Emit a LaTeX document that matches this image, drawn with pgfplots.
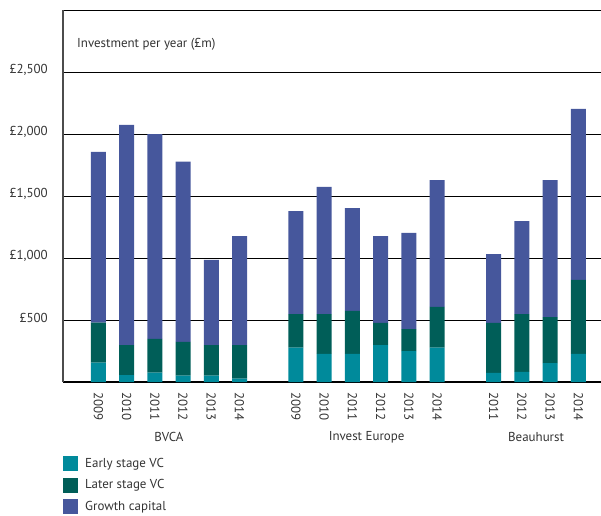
\documentclass[border=0pt]{standalone}
\usepackage{fontspec}
\setmainfont{PT Sans}
\usepackage{pgfplots}
\pgfplotsset{compat=1.18}

\definecolor{early}{RGB}{0,138,155}
\definecolor{later}{RGB}{0,94,88}
\definecolor{growth}{RGB}{70,87,156}
\definecolor{txt}{RGB}{51,51,51}

\begin{document}
\begin{tikzpicture}
\begin{axis}[
    width=538bp, height=372bp,
    scale only axis,
    ybar stacked,
    bar width=15bp,
    xmin=-1.25, xmax=17.8,
    ymin=0, ymax=3000,
    axis x line*=bottom,
    axis y line*=left,
    x axis line style={black, line width=1.2pt},
    y axis line style={black!70, line width=1.4pt},
    ymajorgrids,
    grid style={black, line width=0.8pt},
    ytick={500,1000,1500,2000,2500,3000},
    yticklabels={£500,{£1,000},{£1,500},{£2,000},{£2,500},{}},
    xtick={0,1,2,3,4,5,7,8,9,10,11,12,14,15,16,17},
    xticklabels={2009,2010,2011,2012,2013,2014,2009,2010,2011,2012,2013,2014,2011,2012,2013,2014},
    major tick length=0pt,
    tick label style={font=\fontsize{13}{15}\selectfont, text=txt},
    yticklabel style={inner sep=0pt, xshift=-15bp, yshift=2bp},
    xticklabel style={rotate=-90, anchor=west, inner sep=0pt},
    xticklabel shift=10bp,
    clip=false,
    legend style={at={(0,0)}, anchor=north west, yshift=-74bp, draw=none, fill=none,
        inner sep=0pt, row sep=6.5bp,
        nodes={inner sep=0pt, text height=11bp, text depth=4bp, font=\fontsize{13}{15}\selectfont, text=txt}},
    legend cell align=left,
    /tikz/every odd column/.append style={column sep=7bp},
]
\addplot[fill=early, draw=none,
    legend image code/.code={\fill[early] (0bp,-7.5bp) rectangle (15bp,7.5bp);}]
coordinates {(0,156) (1,56) (2,75) (3,51) (4,51) (5,27)
             (7,277) (8,226) (9,226) (10,298) (11,250) (12,277)
             (14,73) (15,81) (16,153) (17,226)};
\addplot[fill=later, draw=none,
    legend image code/.code={\fill[later] (0bp,-7.5bp) rectangle (15bp,7.5bp);}]
coordinates {(0,322) (1,242) (2,272) (3,272) (4,247) (5,271)
             (7,271) (8,322) (9,347) (10,178) (11,177) (12,328)
             (14,403) (15,467) (16,371) (17,597)};
\addplot[fill=growth, draw=none,
    legend image code/.code={\fill[growth] (0bp,-7.5bp) rectangle (15bp,7.5bp);}]
coordinates {(0,1377) (1,1775) (2,1651) (3,1454) (4,686) (5,879)
             (7,831) (8,1025) (9,830) (10,701) (11,775) (12,1024)
             (14,556) (15,750) (16,1105) (17,1379)};
\legend{Early stage VC, Later stage VC, Growth capital}

\node[anchor=west, text=txt, font=\fontsize{13}{15}\selectfont, inner sep=0pt]
    at (rel axis cs:0.026,0.909) {Investment per year (£m)};
\node[text=txt, font=\fontsize{13}{15}\selectfont, inner sep=0pt, yshift=-55bp] at (axis cs:2.5,0) {BVCA};
\node[text=txt, font=\fontsize{13}{15}\selectfont, inner sep=0pt, yshift=-55bp] at (axis cs:9.5,0) {Invest Europe};
\node[text=txt, font=\fontsize{13}{15}\selectfont, inner sep=0pt, yshift=-55bp] at (axis cs:15.5,0) {Beauhurst};
\end{axis}
\pgfresetboundingbox
\path (-63bp,-134bp) rectangle (538bp,382bp);
\end{tikzpicture}
\end{document}
